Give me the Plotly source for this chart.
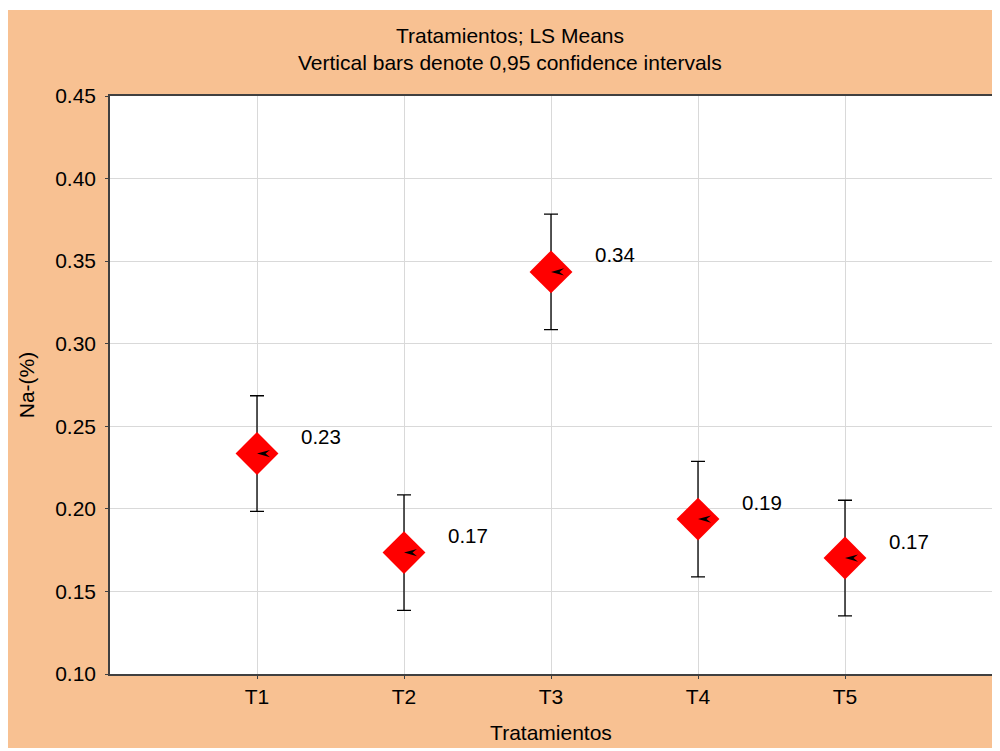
import plotly.graph_objects as go

categories = ["T1", "T2", "T3", "T4", "T5"]
means = [0.2335, 0.1735, 0.3435, 0.1938, 0.1702]
ci_half = [0.035, 0.035, 0.035, 0.035, 0.035]
labels = ["0.23", "0.17", "0.34", "0.19", "0.17"]
y_ticks = [0.10, 0.15, 0.20, 0.25, 0.30, 0.35, 0.40, 0.45]

PEACH = "#F8C192"
FONT = "Liberation Sans, Arial, sans-serif"
FS = 21

xpos = list(range(len(categories)))

fig = go.Figure()
fig.add_trace(go.Scatter(
    x=xpos, y=means, mode="markers",
    marker=dict(symbol="diamond", size=33, color="#FF0000", line=dict(width=0)),
    error_y=dict(type="data", array=ci_half, visible=True, color="black", thickness=1.3, width=7),
    showlegend=False, hoverinfo="skip",
))

# small barbed arrow glyph inside each marker (pixel-sized, anchored at the data point)
ARROW_PATH = "M0,0 L13,3.6 L8.5,0 L13,-3.6 Z"
for xi, yi in zip(xpos, means):
    fig.add_shape(type="path", xref="x", yref="y", xsizemode="pixel", ysizemode="pixel",
                  xanchor=xi, yanchor=yi, path=ARROW_PATH,
                  fillcolor="black", line=dict(width=0), layer="above")

for xi, yi, t in zip(xpos, means, labels):
    fig.add_annotation(x=xi, y=yi, text=t, showarrow=False, xshift=64, yshift=17,
                       xanchor="center", yanchor="middle",
                       font=dict(family=FONT, size=20.5, color="black"))

# background shapes: peach page, white plot area
fig.add_shape(type="rect", xref="paper", yref="paper", x0=-0.1168, x1=1.008, y0=-0.128, y1=1.1488,
              fillcolor=PEACH, line=dict(width=0), layer="below")
fig.add_shape(type="rect", xref="paper", yref="paper", x0=0, x1=1, y0=0, y1=1,
              fillcolor="white", line=dict(width=0), layer="below")

fig.add_annotation(xref="paper", yref="paper", x=0.4535, y=1.1055, text="Tratamientos; LS Means",
                   showarrow=False, xanchor="center", yanchor="middle",
                   font=dict(family=FONT, size=FS, color="black"))
fig.add_annotation(xref="paper", yref="paper", x=0.4535, y=1.0588,
                   text="Vertical bars denote 0,95 confidence intervals",
                   showarrow=False, xanchor="center", yanchor="middle",
                   font=dict(family=FONT, size=FS, color="black"))

fig.update_layout(
    width=992, height=743,
    margin=dict(l=102, r=8, t=88, b=77, autoexpand=False),
    paper_bgcolor="white", plot_bgcolor="rgba(0,0,0,0)",
    font=dict(family=FONT, size=FS, color="black"),
    xaxis=dict(
        range=[-1, 5], tickmode="array", tickvals=xpos, ticktext=categories,
        showgrid=True, gridcolor="#D9D9D9", gridwidth=1,
        showline=True, linecolor="#404040", linewidth=1.5, mirror=True,
        ticks="outside", ticklen=3, tickcolor="#404040", zeroline=False,
        tickfont=dict(family=FONT, size=FS), automargin=False,
        title=dict(text="Tratamientos", standoff=18, font=dict(family=FONT, size=FS)),
    ),
    yaxis=dict(
        range=[0.10, 0.45], tickmode="array", tickvals=y_ticks, tickformat=".2f",
        showgrid=True, gridcolor="#D9D9D9", gridwidth=1,
        showline=True, linecolor="#404040", linewidth=1.5, mirror=True,
        ticks="outside", ticklen=3, tickcolor="#404040", zeroline=False,
        ticklabelstandoff=5,
        tickfont=dict(family=FONT, size=FS), automargin=False,
        title=dict(text="Na-(%)", standoff=15, font=dict(family=FONT, size=FS)),
    ),
)

fig.write_html("out.html")
